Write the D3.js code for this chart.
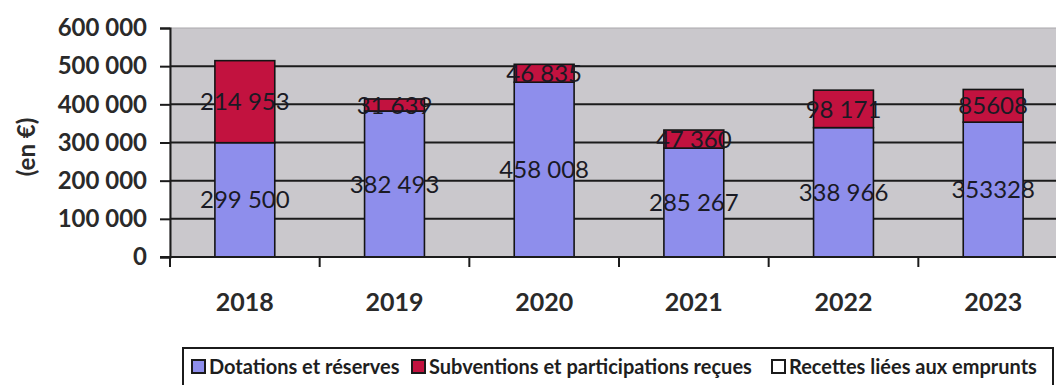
<!DOCTYPE html>
<html>
<head>
<meta charset="utf-8">
<script src="https://cdn.jsdelivr.net/npm/d3@7/dist/d3.min.js"></script>
<style>
  html, body { margin: 0; padding: 0; background: #fff; }
  svg { display: block; }
  text { font-family: Lato, "Open Sans", sans-serif; }
</style>
</head>
<body>
<svg id="chart" width="1056" height="385"></svg>
<script>
// Recettes d'investissement par année (en €)
const years = ["2018", "2019", "2020", "2021", "2022", "2023"];
const dotations = [299500, 382493, 458008, 285267, 338966, 353328];
const subventions = [214953, 31639, 46835, 47360, 98171, 85608];
const emprunts = [0, 0, 0, 0, 0, 0];
const dotationsLabels = ["299 500", "382 493", "458 008", "285 267", "338 966", "353328"];
const subventionsLabels = ["214 953", "31 639", "46 835", "47 360", "98 171", "85608"];
const yTicks = [0, 100000, 200000, 300000, 400000, 500000, 600000];
const seriesNames = ["Dotations et réserves", "Subventions et participations reçues", "Recettes liées aux emprunts"];
const seriesColors = ["#8e8eec", "#c2123f", "#ffffff"];

const svg = d3.select("#chart");
const plotLeft = 170, plotRight = 1068, plotTop = 28, plotBottom = 257;

const x = d3.scaleBand().domain(years).range([plotLeft, plotRight]).paddingInner(0.6).paddingOuter(0.3);
const y = d3.scaleLinear().domain([0, 600000]).range([plotBottom, plotTop]);

// plot area
svg.append("rect")
  .attr("x", plotLeft).attr("y", plotTop)
  .attr("width", plotRight - plotLeft).attr("height", plotBottom - plotTop)
  .attr("fill", "#cac8cc").attr("stroke", "#a9a7ab").attr("stroke-width", 1);

// horizontal grid lines
svg.append("g").selectAll("line")
  .data(yTicks.filter(v => v > 0 && v < 600000))
  .join("line")
  .attr("x1", plotLeft).attr("x2", plotRight)
  .attr("y1", d => y(d)).attr("y2", d => y(d))
  .attr("stroke", "#1b1b1b").attr("stroke-width", 2);

// stacked data
const rows = years.map((yr, i) => ({ year: yr, dot: dotations[i], sub: subventions[i], emp: emprunts[i] }));
const stack = d3.stack().keys(["dot", "sub", "emp"])(rows);

svg.append("g").selectAll("g")
  .data(stack.slice(0, 2))
  .join("g")
  .attr("fill", (d, i) => seriesColors[i])
  .selectAll("rect")
  .data(d => d)
  .join("rect")
  .attr("x", d => x(d.data.year))
  .attr("width", x.bandwidth())
  .attr("y", d => y(d[1]))
  .attr("height", d => y(d[0]) - y(d[1]))
  .attr("stroke", "#141414").attr("stroke-width", 1.6);

// value labels
const labelSets = [dotationsLabels, subventionsLabels];
stack.slice(0, 2).forEach((layer, k) => {
  svg.append("g").selectAll("text")
    .data(layer)
    .join("text")
    .attr("x", d => x(d.data.year) + x.bandwidth() / 2)
    .attr("y", d => y((d[0] + d[1]) / 2))
    .attr("dy", "0.36em")
    .attr("text-anchor", "middle")
    .attr("font-size", 24)
    .attr("fill", "#1a1a24")
    .text((d, i) => labelSets[k][i]);
});

// y axis
const fmt = v => v === 0 ? "0" : d3.format(",")(v).replace(/,/g, " ");
const yAxis = svg.append("g")
  .attr("transform", `translate(${plotLeft},0)`)
  .call(d3.axisLeft(y).tickValues(yTicks).tickFormat(fmt).tickSize(10).tickPadding(13));
yAxis.select(".domain").attr("stroke", "#1b1b1b").attr("stroke-width", 2);
yAxis.selectAll(".tick line").attr("stroke", "#1b1b1b").attr("stroke-width", 2);
yAxis.selectAll(".tick text")
  .attr("font-family", "Lato, sans-serif")
  .attr("font-size", 24).attr("font-weight", "bold").attr("fill", "#2a2a2a");

// x axis with ticks at category boundaries
svg.append("line")
  .attr("x1", plotLeft - 10).attr("x2", plotRight)
  .attr("y1", plotBottom).attr("y2", plotBottom)
  .attr("stroke", "#1b1b1b").attr("stroke-width", 2);
svg.append("g").selectAll("line")
  .data(years)
  .join("line")
  .attr("x1", d => x(d) - (x.step() - x.bandwidth()) / 2)
  .attr("x2", d => x(d) - (x.step() - x.bandwidth()) / 2)
  .attr("y1", plotBottom).attr("y2", plotBottom + 10)
  .attr("stroke", "#1b1b1b").attr("stroke-width", 2);

svg.append("g").selectAll("text")
  .data(years)
  .join("text")
  .attr("x", d => x(d) + x.bandwidth() / 2)
  .attr("y", 311)
  .attr("text-anchor", "middle")
  .attr("font-size", 25).attr("font-weight", "bold").attr("fill", "#2a2a2a")
  .text(d => d);

// y axis title
svg.append("text")
  .attr("transform", "translate(35,147) rotate(-90)")
  .attr("text-anchor", "middle")
  .attr("font-size", 24).attr("font-weight", "bold").attr("fill", "#2a2a2a")
  .text("(en €)");

// legend
const legend = svg.append("g");
legend.append("rect")
  .attr("x", 183).attr("y", 348).attr("width", 870).attr("height", 45)
  .attr("fill", "#fff").attr("stroke", "#1b1b1b").attr("stroke-width", 2);
const legendX = [192, 412, 772];
seriesNames.forEach((name, i) => {
  const g = legend.append("g").attr("transform", `translate(${legendX[i]},0)`);
  g.append("rect")
    .attr("x", 0).attr("y", 360).attr("width", 13).attr("height", 13)
    .attr("fill", seriesColors[i]).attr("stroke", "#1b1b1b").attr("stroke-width", 2);
  g.append("text")
    .attr("x", 17).attr("y", 374)
    .attr("font-size", 20).attr("font-weight", "bold").attr("fill", "#1e1e1e")
    .text(name);
});
</script>
</body>
</html>
